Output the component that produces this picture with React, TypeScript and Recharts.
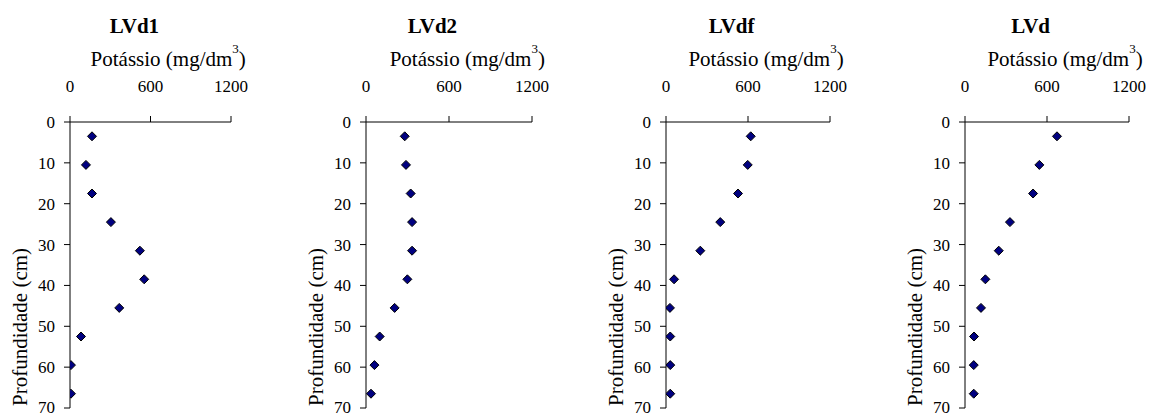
import React from "react";
import { ScatterChart, Scatter, XAxis, YAxis } from "recharts";

// sampling depth (cm), middle of each 7 cm layer
const DEPTHS = [3.5, 10.5, 17.5, 24.5, 31.5, 38.5, 45.5, 52.5, 59.5, 66.5];

// potassium (mg/dm3) per soil
const K_LVD1 = [164, 119, 164, 305, 521, 553, 367, 82, 7, 7];
const K_LVD2 = [280, 289, 323, 333, 333, 299, 207, 99, 61, 36];
const K_LVDF = [620, 598, 527, 397, 251, 59, 29, 31, 31, 31];
const K_LVD = [673, 544, 498, 329, 247, 149, 117, 66, 64, 64];

const TITLES = ["LVd1", "LVd2", "LVdf", "LVd"];
const X_TICKS = [0, 600, 1200];
const Y_TICKS = [0, 10, 20, 30, 40, 50, 60, 70];

const SERIES = [K_LVD1, K_LVD2, K_LVDF, K_LVD];

// layout: y-axis position and plot width per panel
const AXIS_X = [70, 366, 666, 965];
const PLOT_W = [161, 166, 164, 164];

const FONT = "'Liberation Serif', 'Times New Roman', serif";
const Y_AXIS_W = 70;
const RIGHT = 30;

function Diamond(props: any) {
  const { cx, cy } = props;
  if (cx == null || cy == null) return null;
  const r = 4.5;
  return (
    <polygon
      points={`${cx},${cy - r} ${cx + r},${cy} ${cx},${cy + r} ${cx - r},${cy}`}
      fill="#000080"
      stroke="#000"
      strokeWidth={1}
    />
  );
}

function Panel({ idx }: { idx: number }) {
  const plotW = PLOT_W[idx];
  const data = DEPTHS.map((d, i) => ({ depth: d, k: SERIES[idx][i] }));
  const width = Y_AXIS_W + plotW + RIGHT;

  const top = () => (
    <g fill="#000" fontFamily={FONT}>
      <text x={Y_AXIS_W + plotW * 0.4} y={33} textAnchor="middle" fontSize={21} fontWeight="bold" fontFamily={FONT}>
        {TITLES[idx]}
      </text>
      <text x={Y_AXIS_W + plotW * 0.61} y={66} textAnchor="middle" fontSize={21} fontFamily={FONT}>
        Potássio (mg/dm
        <tspan fontSize={13} dy={-13}>3</tspan>
        <tspan dy={13}>)</tspan>
      </text>
    </g>
  );

  const side = () => (
    <text
      x={Y_AXIS_W - 43}
      y={406}
      transform={`rotate(-90, ${Y_AXIS_W - 43}, 406)`}
      textAnchor="start"
      fontSize={21}
      fill="#000"
      fontFamily={FONT}
    >
      Profundidade (cm)
    </text>
  );

  const tick = { fill: "#000", fontSize: 17, fontFamily: FONT };

  return (
    <div style={{ position: "absolute", left: AXIS_X[idx] - Y_AXIS_W, top: 0 }}>
      <ScatterChart
        width={width}
        height={417}
        margin={{ top: 92, right: RIGHT, bottom: 9, left: 0 }}
      >
        <XAxis
          type="number"
          dataKey="k"
          orientation="top"
          domain={[0, 1200]}
          ticks={X_TICKS}
          height={30}
          tickSize={6}
          tickMargin={24}
          axisLine={{ stroke: "#000" }}
          tickLine={{ stroke: "#000" }}
          tick={tick}
          allowDataOverflow
          label={{ content: top }}
        />
        <YAxis
          type="number"
          dataKey="depth"
          domain={[0, 70]}
          ticks={Y_TICKS}
          reversed
          width={Y_AXIS_W}
          tickSize={6}
          tickMargin={9}
          axisLine={{ stroke: "#000" }}
          tickLine={{ stroke: "#000" }}
          tick={tick}
          allowDataOverflow
          label={{ content: side }}
        />
        <Scatter data={data} shape={<Diamond />} isAnimationActive={false} />
      </ScatterChart>
    </div>
  );
}

export default function App() {
  return (
    <div
      style={{
        position: "absolute",
        left: 0,
        top: 0,
        width: 1150,
        height: 417,
        background: "#fff",
        overflow: "hidden",
      }}
    >
      {TITLES.map((_, i) => (
        <Panel key={i} idx={i} />
      ))}
    </div>
  );
}
